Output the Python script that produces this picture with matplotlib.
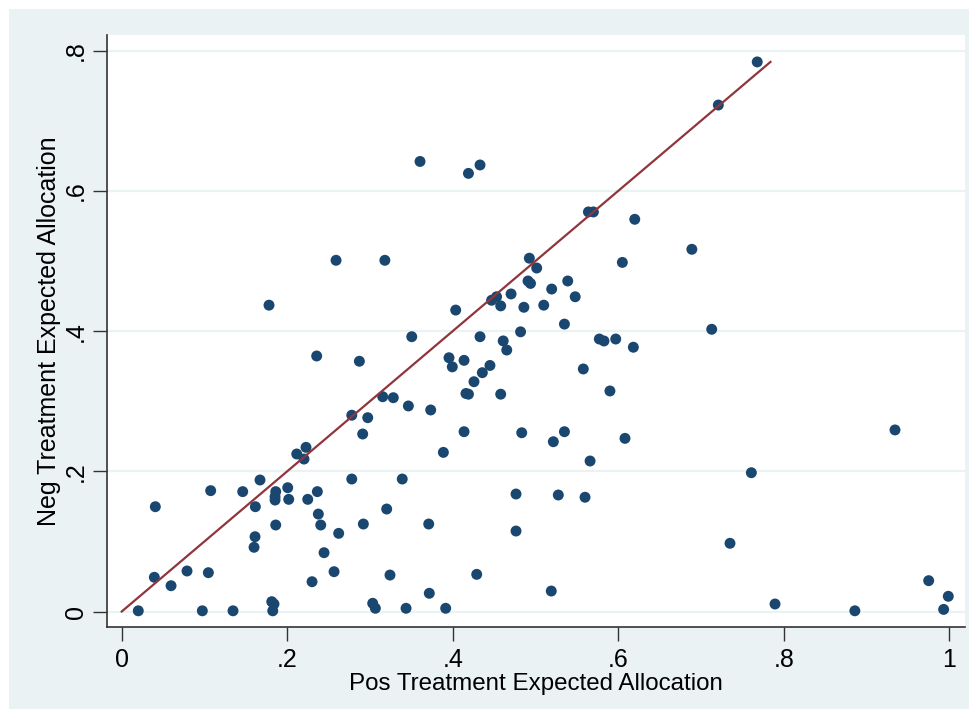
import matplotlib
matplotlib.use("Agg")
import matplotlib.pyplot as plt
from matplotlib.patches import Rectangle

# Data
pos_alloc = [0.259, 0.318, 0.178, 0.3605, 0.419, 0.433, 0.564, 0.570, 0.620, 0.4926,
             0.5015, 0.605, 0.491, 0.494, 0.539, 0.5196, 0.548, 0.447, 0.453, 0.458,
             0.4705, 0.486, 0.510, 0.4036, 0.768, 0.721, 0.689, 0.2356, 0.2872, 0.3154,
             0.3282, 0.278, 0.2973, 0.2912, 0.2115, 0.2227, 0.2203, 0.1671, 0.278, 0.339,
             0.1075, 0.1462, 0.1861, 0.2006, 0.1853, 0.1853, 0.2018, 0.2248, 0.2364, 0.0406,
             0.1615, 0.2376, 0.2405, 0.1861, 0.2622, 0.292, 0.3202, 0.1611, 0.1599, 0.2445,
             0.2566, 0.3242, 0.230, 0.0394, 0.0596, 0.0789, 0.1047, 0.020, 0.0974, 0.1345,
             0.1813, 0.184, 0.1825, 0.3033, 0.3065, 0.535, 0.3505, 0.433, 0.482, 0.461,
             0.4653, 0.5772, 0.5828, 0.597, 0.6183, 0.3955, 0.3995, 0.4137, 0.445, 0.4358,
             0.4257, 0.416, 0.419, 0.458, 0.5578, 0.590, 0.3464, 0.3734, 0.4137, 0.4834,
             0.5216, 0.535, 0.6082, 0.3887, 0.566, 0.371, 0.4765, 0.5276, 0.5599, 0.4765,
             0.429, 0.3717, 0.5191, 0.3436, 0.3915, 0.713, 0.9345, 0.7609, 0.7351, 0.7895,
             0.886, 0.9752, 0.9989, 0.9933]
neg_alloc = [0.501, 0.501, 0.437, 0.642, 0.625, 0.637, 0.570, 0.570, 0.5595, 0.504,
             0.490, 0.498, 0.4715, 0.468, 0.4715, 0.460, 0.449, 0.444, 0.449, 0.436,
             0.453, 0.434, 0.437, 0.430, 0.784, 0.7225, 0.5167, 0.3645, 0.357, 0.3064,
             0.305, 0.280, 0.2765, 0.2532, 0.2247, 0.2342, 0.2175, 0.1876, 0.189, 0.189,
             0.1724, 0.171, 0.171, 0.1766, 0.1638, 0.159, 0.160, 0.160, 0.171, 0.1495,
             0.1495, 0.139, 0.1234, 0.1234, 0.1115, 0.1248, 0.1462, 0.1067, 0.0916, 0.0839,
             0.0568, 0.052, 0.0425, 0.0488, 0.0368, 0.0578, 0.0554, 0.001, 0.001, 0.001,
             0.014, 0.0107, 0.001, 0.0117, 0.0046, 0.410, 0.392, 0.392, 0.399, 0.386,
             0.373, 0.3887, 0.3859, 0.3887, 0.377, 0.362, 0.349, 0.3583, 0.351, 0.3407,
             0.3278, 0.311, 0.310, 0.310, 0.346, 0.3146, 0.2932, 0.2875, 0.2565, 0.255,
             0.2422, 0.2565, 0.247, 0.227, 0.2147, 0.1248, 0.1676, 0.1662, 0.163, 0.1148,
             0.053, 0.026, 0.0292, 0.0046, 0.0046, 0.4026, 0.259, 0.198, 0.0973, 0.0107,
             0.001, 0.044, 0.0217, 0.003]

line_x = [0.0, 0.784]
line_y = [0.0, 0.784]

x_ticks = [0, 0.2, 0.4, 0.6, 0.8, 1.0]
x_tick_labels = ["0", ".2", ".4", ".6", ".8", "1"]
y_ticks = [0, 0.2, 0.4, 0.6, 0.8]
y_tick_labels = ["0", ".2", ".4", ".6", ".8"]

x_title = "Pos Treatment Expected Allocation"
y_title = "Neg Treatment Expected Allocation"

plt.rcParams['font.family'] = ['Liberation Sans', 'DejaVu Sans']

W, H = 978, 718
fig = plt.figure(figsize=(W / 100, H / 100), dpi=100, facecolor="white")
bg = "#EAF2F3"
bgrect = Rectangle((9 / W, 9 / H), 960 / W, 700 / H, transform=fig.transFigure,
                   facecolor=bg, edgecolor="none", zorder=-10)
fig.add_artist(bgrect)

ax = fig.add_axes([107 / W, (H - 627) / H, (965 - 107) / W, (627 - 35) / H])
ax.set_zorder(5)
ax.set_facecolor("white")

ax.set_xlim(-0.0178, 1.0191)
ax.set_ylim(-0.0221, 0.8224)

for yt in y_ticks:
    ax.axhline(yt, color=bg, lw=1.6, zorder=1)

ax.scatter(pos_alloc, neg_alloc, s=62, color="#1a476f", edgecolors="none", zorder=3)
ax.plot(line_x, line_y, color="#90353b", lw=1.6, zorder=4)

ax.set_xticks(x_ticks)
ax.set_xticklabels(x_tick_labels, fontsize=18)
ax.set_yticks(y_ticks)
ax.set_yticklabels(y_tick_labels, fontsize=18, rotation=90, va="center")

ax.tick_params(axis="both", direction="out", length=10, width=1.0, color="#333333")
ax.tick_params(axis="x", pad=5)
ax.tick_params(axis="y", pad=4)

for s in ["top", "right"]:
    ax.spines[s].set_visible(False)
for s in ["left", "bottom"]:
    ax.spines[s].set_color("#333333")
    ax.spines[s].set_linewidth(1.2)

ax.set_xlabel(x_title, fontsize=17.4, labelpad=1)
ax.set_ylabel(y_title, fontsize=18, labelpad=2)

fig.savefig("out.png", dpi=100, facecolor="white")
